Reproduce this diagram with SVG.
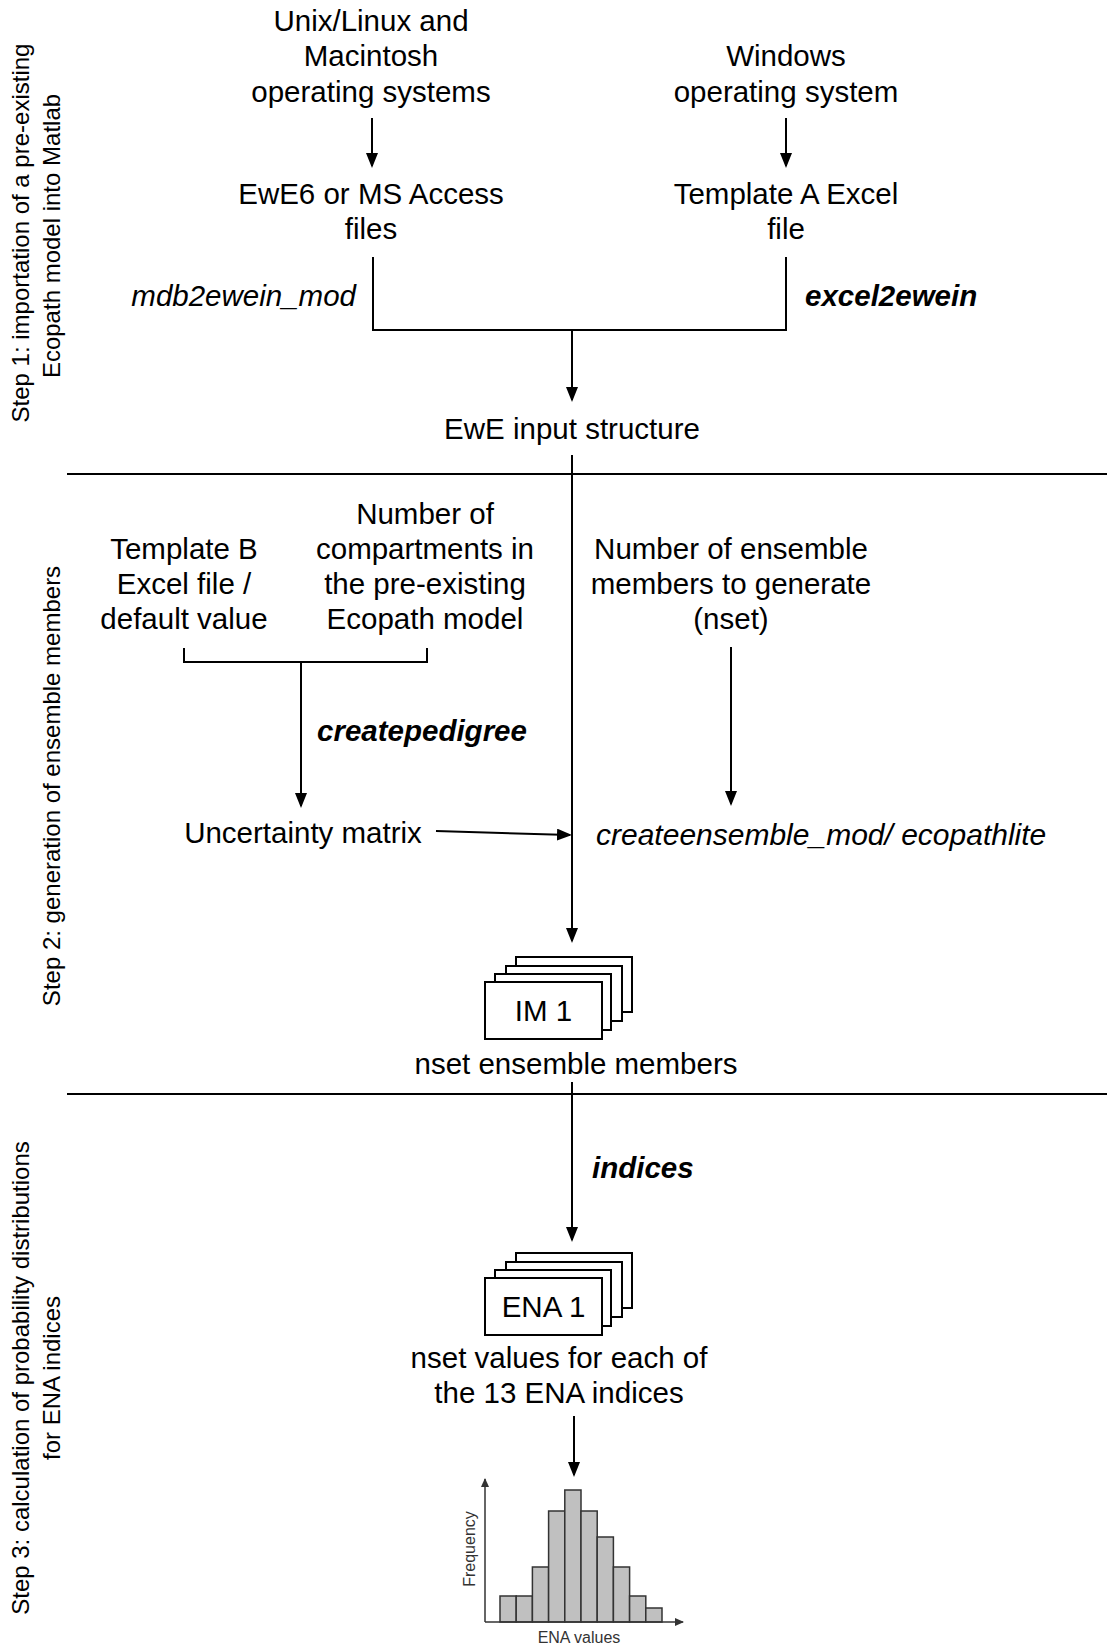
<svg xmlns="http://www.w3.org/2000/svg" width="1107" height="1648" viewBox="0 0 1107 1648">
<style>
.t{font-family:"Liberation Sans",Arial,sans-serif;font-size:29.5px;fill:#000;text-anchor:middle}
.i{font-style:italic}
.b{font-weight:bold}
.s{font-size:24px}
.sm{font-family:"Liberation Sans",Arial,sans-serif;font-size:16px;fill:#333;text-anchor:middle}
.ln{stroke:#000;stroke-width:2;fill:none}
.card{fill:#fff;stroke:#000;stroke-width:2}
.bar{fill:#c0c0c0;stroke:#333;stroke-width:1.5}
.ax{stroke:#333;stroke-width:1.5;fill:none}
</style>
<defs>
<marker id="ah" markerUnits="userSpaceOnUse" markerWidth="16" markerHeight="12" refX="13" refY="6" orient="auto"><path d="M0,0 L15,6 L0,12 z" fill="#000"/></marker>
<marker id="sa" markerUnits="userSpaceOnUse" markerWidth="10" markerHeight="8" refX="8" refY="4" orient="auto"><path d="M0,0 L9,4 L0,8 z" fill="#333"/></marker>
</defs>

<g id="dividers">
<line class="ln" x1="67" y1="474" x2="1107" y2="474"/>
<line class="ln" x1="67" y1="1094" x2="1107" y2="1094"/>
</g>

<g id="step-labels">
<text class="t s" transform="translate(29,233) rotate(-90)">Step 1: importation of a pre-existing</text>
<text class="t s" transform="translate(60,236) rotate(-90)">Ecopath model into Matlab</text>
<text class="t s" transform="translate(60,786) rotate(-90)">Step 2: generation of ensemble members</text>
<text class="t s" transform="translate(29,1378) rotate(-90)">Step 3: calculation of probability distributions</text>
<text class="t s" transform="translate(60,1378) rotate(-90)">for ENA indices</text>
</g>

<g id="connectors">
<line class="ln" x1="372" y1="118" x2="372" y2="166" marker-end="url(#ah)"/>
<line class="ln" x1="786" y1="118" x2="786" y2="166" marker-end="url(#ah)"/>
<polyline class="ln" points="373,257 373,330 786,330 786,257"/>
<line class="ln" x1="572" y1="330" x2="572" y2="400" marker-end="url(#ah)"/>
<line class="ln" x1="572" y1="455" x2="572" y2="941" marker-end="url(#ah)"/>
<polyline class="ln" points="184,648 184,662 427,662 427,648"/>
<line class="ln" x1="301" y1="662" x2="301" y2="806" marker-end="url(#ah)"/>
<line class="ln" x1="731" y1="647" x2="731" y2="804" marker-end="url(#ah)"/>
<line class="ln" x1="436" y1="831" x2="570" y2="835" marker-end="url(#ah)"/>
<line class="ln" x1="572" y1="1082" x2="572" y2="1240" marker-end="url(#ah)"/>
<line class="ln" x1="574" y1="1416" x2="574" y2="1475" marker-end="url(#ah)"/>
</g>

<g id="unix">
<text class="t" x="371" y="31">Unix/Linux and</text>
<text class="t" x="371" y="66">Macintosh</text>
<text class="t" x="371" y="102">operating systems</text>
</g>
<g id="windows">
<text class="t" x="786" y="66">Windows</text>
<text class="t" x="786" y="102">operating system</text>
</g>
<g id="ewe6">
<text class="t" x="371" y="204">EwE6 or MS Access</text>
<text class="t" x="371" y="239">files</text>
</g>
<g id="templateA">
<text class="t" x="786" y="204">Template A Excel</text>
<text class="t" x="786" y="239">file</text>
</g>
<g id="label-mdb"><text class="t i" x="356" y="306" style="text-anchor:end">mdb2ewein_mod</text></g>
<g id="label-excel"><text class="t i b" x="805" y="306" style="text-anchor:start">excel2ewein</text></g>
<g id="ewe-input"><text class="t" x="572" y="439">EwE input structure</text></g>

<g id="templateB">
<text class="t" x="184" y="559">Template B</text>
<text class="t" x="184" y="594">Excel file /</text>
<text class="t" x="184" y="629">default value</text>
</g>
<g id="compartments">
<text class="t" x="425" y="524">Number of</text>
<text class="t" x="425" y="559">compartments in</text>
<text class="t" x="425" y="594">the pre-existing</text>
<text class="t" x="425" y="629">Ecopath model</text>
</g>
<g id="nset-input">
<text class="t" x="731" y="559">Number of ensemble</text>
<text class="t" x="731" y="594">members to generate</text>
<text class="t" x="731" y="629">(nset)</text>
</g>
<g id="label-pedigree"><text class="t i b" x="422" y="741">createpedigree</text></g>
<g id="uncertainty"><text class="t" x="303" y="843">Uncertainty matrix</text></g>
<g id="createensemble"><text class="t i" x="596" y="845" style="text-anchor:start;font-size:30px">createensemble_mod/ ecopathlite</text></g>

<g id="im-stack">
<rect class="card" x="516" y="957" width="116" height="55"/>
<rect class="card" x="506" y="966" width="116" height="55"/>
<rect class="card" x="495" y="974" width="116" height="56"/>
<rect class="card" x="485" y="982" width="117" height="57"/>
<text class="t" x="543.5" y="1021">IM 1</text>
</g>
<g id="nset-members"><text class="t" x="576" y="1074">nset ensemble members</text></g>

<g id="label-indices"><text class="t i b" x="592" y="1178" style="text-anchor:start">indices</text></g>

<g id="ena-stack">
<rect class="card" x="516" y="1253" width="116" height="55"/>
<rect class="card" x="506" y="1262" width="116" height="55"/>
<rect class="card" x="495" y="1270" width="116" height="56"/>
<rect class="card" x="485" y="1278" width="117" height="57"/>
<text class="t" x="543.5" y="1317">ENA 1</text>
</g>
<g id="nset-values">
<text class="t" x="559" y="1368">nset values for each of</text>
<text class="t" x="559" y="1403">the 13 ENA indices</text>
</g>

<g id="histogram">
<rect class="bar" x="500" y="1596" width="16.2" height="26"/>
<rect class="bar" x="516.2" y="1596" width="16.2" height="26"/>
<rect class="bar" x="532.4" y="1567" width="16.2" height="55"/>
<rect class="bar" x="548.6" y="1511" width="16.2" height="111"/>
<rect class="bar" x="564.8" y="1490" width="16.2" height="132"/>
<rect class="bar" x="581" y="1511" width="16.2" height="111"/>
<rect class="bar" x="597.2" y="1537" width="16.2" height="85"/>
<rect class="bar" x="613.4" y="1567" width="16.2" height="55"/>
<rect class="bar" x="629.6" y="1596" width="16.2" height="26"/>
<rect class="bar" x="645.8" y="1608" width="16.2" height="14"/>
<line class="ax" x1="485" y1="1622" x2="485" y2="1479" marker-end="url(#sa)"/>
<line class="ax" x1="485" y1="1622" x2="683" y2="1622" marker-end="url(#sa)"/>
<text class="sm" transform="translate(475,1549) rotate(-90)">Frequency</text>
<text class="sm" x="579" y="1643">ENA values</text>
</g>
</svg>
